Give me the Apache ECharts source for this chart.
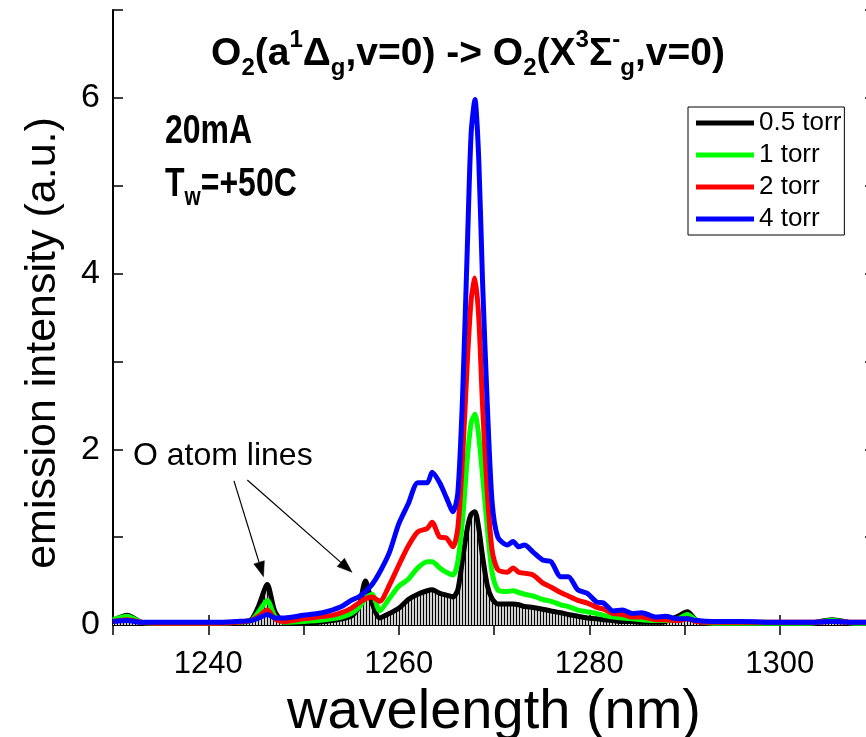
<!DOCTYPE html>
<html><head><meta charset="utf-8">
<script src="https://cdn.jsdelivr.net/npm/echarts@6/dist/echarts.min.js"></script>
<style>html,body{margin:0;padding:0;background:#fff}#c{width:866px;height:737px}</style>
</head><body><div id="c"></div>
<script>
// ---- data ----
const wavelengths = [
  1230, 1231.5, 1233, 1235, 1238, 1241, 1243, 1244.5, 1245.3, 1246.2,
  1247, 1248, 1250, 1251.5, 1253, 1254, 1255, 1255.8, 1256.5, 1257.2,
  1258, 1259, 1260, 1261, 1262, 1263, 1263.5, 1264.3, 1265, 1265.7,
  1266.2, 1266.7, 1267.2, 1267.6, 1268, 1268.4, 1268.8, 1269.3, 1269.8, 1270.4,
  1271.4, 1272, 1272.6, 1273.2, 1274.1, 1275.1, 1276, 1277, 1277.8, 1278.8,
  1279.8, 1280.8, 1281.5, 1282.5, 1283.5, 1284.5, 1285.5, 1287, 1288, 1289.3,
  1290.3, 1291.3, 1293, 1296, 1300, 1303, 1305.5, 1308, 1310
];
const torr05 = [
  0.05, 0.11, 0.03, 0.02, 0.02, 0.02, 0.03, 0.06, 0.22, 0.46,
  0.15, 0.03, 0.02, 0.03, 0.05, 0.07, 0.10, 0.20, 0.50, 0.25,
  0.08, 0.13, 0.19, 0.29, 0.35, 0.39, 0.40, 0.36, 0.34, 0.32,
  0.40, 0.75, 1.10, 1.26, 1.29, 1.10, 0.78, 0.45, 0.30, 0.24,
  0.24, 0.24, 0.23, 0.21, 0.20, 0.18, 0.16, 0.14, 0.12, 0.10,
  0.08, 0.07, 0.06, 0.05, 0.04, 0.04, 0.03, 0.03, 0.04, 0.10,
  0.15, 0.05, 0.02, 0.02, 0.02, 0.02, 0.06, 0.02, 0.02
];
const torr1 = [
  0.06, 0.10, 0.03, 0.02, 0.02, 0.02, 0.03, 0.05, 0.15, 0.28,
  0.10, 0.03, 0.04, 0.05, 0.07, 0.09, 0.13, 0.20, 0.30, 0.35,
  0.16, 0.30, 0.44, 0.52, 0.65, 0.72, 0.72, 0.65, 0.60, 0.57,
  0.72, 1.20, 1.90, 2.30, 2.40, 2.15, 1.70, 1.10, 0.60, 0.40,
  0.38, 0.39, 0.37, 0.35, 0.33, 0.29, 0.27, 0.23, 0.21, 0.17,
  0.15, 0.13, 0.11, 0.09, 0.08, 0.07, 0.06, 0.05, 0.05, 0.07,
  0.12, 0.05, 0.02, 0.02, 0.02, 0.02, 0.05, 0.02, 0.02
];
const torr2 = [
  0.04, 0.06, 0.03, 0.02, 0.02, 0.02, 0.03, 0.05, 0.10, 0.17,
  0.07, 0.04, 0.07, 0.09, 0.11, 0.14, 0.19, 0.25, 0.30, 0.32,
  0.27, 0.45, 0.68, 0.90, 1.06, 1.10, 1.17, 1.00, 0.99, 0.89,
  1.10, 1.90, 3.00, 3.70, 3.95, 3.50, 2.50, 1.50, 0.85, 0.63,
  0.60, 0.65, 0.60, 0.59, 0.57, 0.48, 0.43, 0.37, 0.33, 0.28,
  0.25, 0.20, 0.18, 0.13, 0.12, 0.09, 0.09, 0.06, 0.06, 0.05,
  0.07, 0.04, 0.03, 0.03, 0.03, 0.03, 0.04, 0.03, 0.03
];
const torr4 = [
  0.04, 0.05, 0.03, 0.03, 0.03, 0.03, 0.04, 0.05, 0.08, 0.12,
  0.08, 0.08, 0.11, 0.13, 0.17, 0.21, 0.28, 0.32, 0.38, 0.46,
  0.60, 0.82, 1.15, 1.38, 1.62, 1.62, 1.74, 1.62, 1.45, 1.29,
  1.50, 2.60, 4.30, 5.60, 5.98, 5.30, 3.90, 2.50, 1.40, 1.00,
  0.91, 0.95, 0.89, 0.91, 0.83, 0.74, 0.72, 0.55, 0.55, 0.40,
  0.36, 0.26, 0.25, 0.16, 0.17, 0.13, 0.14, 0.09, 0.10, 0.07,
  0.07, 0.05, 0.04, 0.04, 0.03, 0.03, 0.04, 0.03, 0.03
];
const seriesNames = ['0.5 torr', '1 torr', '2 torr', '4 torr'];
const seriesColors = ['#000000', '#00ff00', '#ff0000', '#0000ff'];
const xTickLabels = [1240, 1260, 1280, 1300];
const yTickLabels = [0, 2, 4, 6];
// annotation anchor points in data units [wavelength, intensity]
const annoText = [1232.1, 1.74];
const arrowTails = [[1242.7, 1.64], [1244.1, 1.65]];
const arrowTips = [[1245.8, 0.55], [1255.1, 0.60]];

// ---- chart ----
const SANS = "'Liberation Sans',Arial,Helvetica,sans-serif";
const chart = echarts.init(document.getElementById('c'), null, {renderer: 'canvas'});

const hatch = document.createElement('canvas');
hatch.width = 3; hatch.height = 2;
const hg = hatch.getContext('2d');
hg.fillStyle = '#d0d0d0'; hg.fillRect(0, 0, 3, 2);
hg.fillStyle = '#000'; hg.fillRect(0, 0, 1, 2);

function pairs(v) { return wavelengths.map((w, i) => [w, v[i]]); }
const allSeries = [torr05, torr1, torr2, torr4];

const axisLine = {show: true, lineStyle: {color: '#000', width: 2}};
const series = allSeries.map((vals, i) => ({
  name: seriesNames[i],
  type: 'line',
  data: pairs(vals),
  symbol: 'none',
  smooth: 0.25,
  lineStyle: {color: seriesColors[i], width: 5},
  itemStyle: {color: seriesColors[i]},
  areaStyle: i === 0 ? {color: {image: hatch, repeat: 'repeat'}, opacity: 1} : undefined,
  z: 2 + i
}));

chart.setOption({
  animation: false,
  backgroundColor: '#fff',
  grid: {left: 113, right: -9, top: 10, bottom: 112, containLabel: false, outerBoundsMode: 'none'},
  legend: {
    orient: 'vertical', left: 688, top: 107,
    data: seriesNames,
    icon: 'rect',
    itemWidth: 58, itemHeight: 5, itemGap: 6,
    backgroundColor: '#fff', borderColor: '#000', borderWidth: 1, borderRadius: 0,
    padding: [3, 3, 3, 8],
    textStyle: {fontFamily: SANS, fontSize: 26, color: '#000', lineHeight: 26}
  },
  xAxis: [{
    type: 'value', min: 1230, max: 1310, interval: 10, position: 'bottom',
    axisLine: axisLine,
    axisTick: {inside: true, length: 10, lineStyle: {color: '#000', width: 1.5}},
    axisLabel: {formatter: v => xTickLabels.includes(v) ? String(v) : '', fontFamily: SANS,
      fontSize: 31, color: '#000', margin: 24},
    splitLine: {show: false},
    name: 'wavelength (nm)', nameLocation: 'middle', nameGap: 41,
    nameTextStyle: {fontFamily: SANS, fontSize: 56, color: '#000'}
  }, {
    type: 'value', min: 1230, max: 1310, interval: 10, position: 'top',
    axisLine: axisLine,
    axisTick: {inside: true, length: 10, lineStyle: {color: '#000', width: 1.5}},
    axisLabel: {show: false}, splitLine: {show: false}
  }],
  yAxis: [{
    type: 'value', min: 0, max: 7, interval: 1, position: 'left',
    axisLine: axisLine,
    axisTick: {inside: true, length: 10, lineStyle: {color: '#000', width: 1.5}},
    axisLabel: {formatter: v => yTickLabels.includes(v) ? String(v) : '', fontFamily: SANS,
      fontSize: 34, color: '#000', margin: 13},
    splitLine: {show: false},
    name: 'emission intensity (a.u.)', nameLocation: 'middle', nameGap: 48,
    nameTextStyle: {fontFamily: SANS, fontSize: 43, color: '#000', padding: [0, 51, 0, 0]}
  }, {
    type: 'value', min: 0, max: 7, interval: 1, position: 'right',
    axisLine: {show: false},
    axisTick: {inside: true, length: 10, lineStyle: {color: '#000', width: 1.5}},
    axisLabel: {show: false}, splitLine: {show: false}
  }],
  series: series
});

// ---- annotations & titles ----
function px(p) { return chart.convertToPixel({xAxisIndex: 0, yAxisIndex: 0}, p); }
const graphics = [];
graphics.push({
  type: 'text', x: 468, y: 28, z: 20,
  style: {
    text: '{b|O}{sub|2}{b|(a}{sup|1}{b|Δ}{sub|g}{b|,v=0) -> O}{sub|2}{b|(X}{sup|3}{b|Σ}{sup|-}{sub|g}{b|,v=0)}',
    align: 'center', verticalAlign: 'top',
    rich: {
      b: {fontFamily: SANS, fontWeight: 'bold', fontSize: 39, lineHeight: 52, verticalAlign: 'middle', fill: '#000'},
      sup: {fontFamily: SANS, fontWeight: 'bold', fontSize: 24, lineHeight: 24, verticalAlign: 'top', fill: '#000'},
      sub: {fontFamily: SANS, fontWeight: 'bold', fontSize: 24, lineHeight: 24, verticalAlign: 'bottom', fill: '#000'}
    }
  }
});
graphics.push({
  type: 'text', x: 165, y: 105, z: 20, scaleX: 0.8,
  style: {
    text: '{b|20mA}\n{b|T}{sub|w}{b|=+50C}',
    align: 'left', verticalAlign: 'top',
    rich: {
      b: {fontFamily: SANS, fontWeight: 'bold', fontSize: 40, lineHeight: 53, verticalAlign: 'middle', fill: '#000'},
      sub: {fontFamily: SANS, fontWeight: 'bold', fontSize: 26, lineHeight: 26, verticalAlign: 'bottom', fill: '#000'}
    }
  }
});
const tp = px(annoText);
graphics.push({
  type: 'text', x: tp[0], y: tp[1], z: 20,
  style: {text: 'O atom lines', fontFamily: SANS, fontSize: 32, fill: '#000', align: 'left', verticalAlign: 'bottom'}
});
arrowTails.forEach((t, i) => {
  const a = px(t), b = px(arrowTips[i]);
  const dx = b[0] - a[0], dy = b[1] - a[1];
  const L = Math.hypot(dx, dy), ux = dx / L, uy = dy / L;
  const hl = 15, hw = 5.5;
  const bx = b[0] - ux * hl, by = b[1] - uy * hl;
  graphics.push({type: 'line', z: 20, shape: {x1: a[0], y1: a[1], x2: bx, y2: by},
    style: {stroke: '#000', lineWidth: 1.2}});
  graphics.push({type: 'polygon', z: 20, shape: {points: [
    [b[0], b[1]], [bx - uy * hw, by + ux * hw], [bx + uy * hw, by - ux * hw]]},
    style: {fill: '#000', stroke: '#000', lineWidth: 0.5}});
});
chart.setOption({graphic: graphics});
</script>
</body></html>
